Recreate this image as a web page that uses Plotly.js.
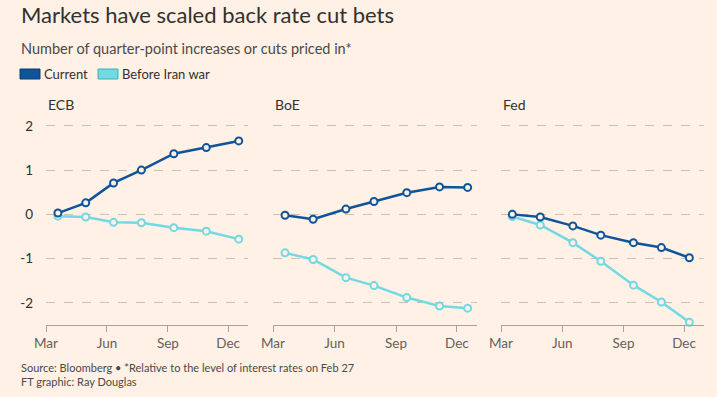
<!DOCTYPE html>
<html><head><meta charset="utf-8">
<script src="https://cdn.plot.ly/plotly-3.0.1.min.js"></script>
<style>html,body{margin:0;padding:0;background:#FFF1E5;}#chart{width:717px;height:397px;}</style>
</head><body><div id="chart"></div>
<script>
// Data
const ecbDates = ['2026-03-19','2026-04-30','2026-06-11','2026-07-23','2026-09-10','2026-10-29','2026-12-17'];
const ecbCurrent = [0.03, 0.26, 0.71, 1.0, 1.37, 1.51, 1.66];
const ecbBefore = [-0.04, -0.06, -0.18, -0.19, -0.30, -0.38, -0.56];

const boeDates = ['2026-03-19','2026-04-30','2026-06-18','2026-07-30','2026-09-17','2026-11-05','2026-12-17'];
const boeCurrent = [-0.02, -0.11, 0.12, 0.29, 0.49, 0.62, 0.61];
const boeBefore = [-0.87, -1.02, -1.43, -1.61, -1.88, -2.07, -2.12];

const fedDates = ['2026-03-18','2026-04-29','2026-06-17','2026-07-29','2026-09-16','2026-10-28','2026-12-09'];
const fedCurrent = [0.0, -0.06, -0.26, -0.47, -0.64, -0.75, -0.98];
const fedBefore = [-0.05, -0.24, -0.64, -1.06, -1.60, -1.98, -2.44];

const panelNames = ['ECB', 'BoE', 'Fed'];
const seriesNames = ['Current', 'Before Iran war'];
const monthTickVals = ['2026-03-01','2026-06-01','2026-09-01','2026-12-01'];
const monthTickText = ['Mar','Jun','Sep','Dec'];
const yTickVals = [-2, -1, 0, 1, 2];
const yTickText = ['-2', '-1', '0', '1', '2'];

const BG = '#FFF1E5';
const DARK = '#0F5499';
const CYAN = '#72D9E3';
const FONT = 'Lato, "Open Sans", sans-serif';
const W = 717, H = 397;

const panels = [
  {dates: ecbDates, cur: ecbCurrent, bef: ecbBefore},
  {dates: boeDates, cur: boeCurrent, bef: boeBefore},
  {dates: fedDates, cur: fedCurrent, bef: fedBefore}
];

const traces = [];
panels.forEach((p, i) => {
  const xa = i === 0 ? 'x' : 'x' + (i + 1);
  const ya = i === 0 ? 'y' : 'y' + (i + 1);
  traces.push({x: p.dates, y: p.bef, xaxis: xa, yaxis: ya, type: 'scatter', mode: 'lines+markers',
    name: seriesNames[1], showlegend: false, cliponaxis: false,
    line: {color: CYAN, width: 2.5},
    marker: {size: 7, color: BG, line: {color: CYAN, width: 2}}});
  traces.push({x: p.dates, y: p.cur, xaxis: xa, yaxis: ya, type: 'scatter', mode: 'lines+markers',
    name: seriesNames[0], showlegend: false, cliponaxis: false,
    line: {color: DARK, width: 2.5},
    marker: {size: 7, color: BG, line: {color: DARK, width: 2}}});
});

const xDomains = [[46 / W, 248 / W], [273 / W, 477 / W], [501 / W, 704 / W]];
const yDomain = [(H - 325) / H, (H - 112.6) / H];

const layout = {
  width: W, height: H,
  paper_bgcolor: BG, plot_bgcolor: BG,
  margin: {l: 0, r: 0, t: 0, b: 0},
  font: {family: FONT, color: '#66605C', size: 13},
  showlegend: false,
  shapes: [], annotations: []
};

xDomains.forEach((d, i) => {
  const sfx = i === 0 ? '' : String(i + 1);
  layout['xaxis' + sfx] = {
    domain: d, type: 'date', range: ['2026-03-01', '2026-12-31'],
    tickvals: monthTickVals, ticktext: monthTickText,
    showgrid: false, zeroline: false, showline: true, linecolor: '#A9A19A', linewidth: 1,
    ticks: 'outside', ticklen: 6, tickcolor: '#A9A19A', tickwidth: 1,
    tickfont: {family: FONT, size: 13.5, color: '#66605C'},
    anchor: 'y' + sfx, fixedrange: true
  };
  layout['yaxis' + sfx] = {
    domain: yDomain, range: [-2.5, 2.3],
    tickvals: yTickVals, ticktext: yTickText,
    showticklabels: i === 0, showgrid: true, gridcolor: '#CDBFB2', griddash: 'dash', gridwidth: 1,
    zeroline: false, showline: false, ticks: '', ticklabelstandoff: 12,
    tickfont: {family: FONT, size: 13.5, color: '#33302E'},
    anchor: 'x' + sfx, fixedrange: true
  };
  layout.annotations.push({text: panelNames[i], xref: 'paper', yref: 'paper',
    x: d[0], y: (H - 104) / H, xanchor: 'left', yanchor: 'middle', showarrow: false,
    font: {family: FONT, size: 14, color: '#33302E'}});
});

// Titles and notes
layout.annotations.push(
  {text: 'Markets have scaled back rate cut bets', xref: 'paper', yref: 'paper', x: 19 / W, y: (H - 15) / H,
   xanchor: 'left', yanchor: 'middle', showarrow: false, font: {family: FONT, size: 22, color: '#33302E'}},
  {text: 'Number of quarter-point increases or cuts priced in*', xref: 'paper', yref: 'paper', x: 19 / W, y: (H - 48) / H,
   xanchor: 'left', yanchor: 'middle', showarrow: false, font: {family: FONT, size: 14.5, color: '#4D4845'}},
  {text: seriesNames[0], xref: 'paper', yref: 'paper', x: 42 / W, y: (H - 74) / H,
   xanchor: 'left', yanchor: 'middle', showarrow: false, font: {family: FONT, size: 13, color: '#33302E'}},
  {text: seriesNames[1], xref: 'paper', yref: 'paper', x: 120 / W, y: (H - 74) / H,
   xanchor: 'left', yanchor: 'middle', showarrow: false, font: {family: FONT, size: 13, color: '#33302E'}},
  {text: 'Source: Bloomberg • *Relative to the level of interest rates on Feb 27', xref: 'paper', yref: 'paper', x: 19 / W, y: (H - 367) / H,
   xanchor: 'left', yanchor: 'middle', showarrow: false, font: {family: FONT, size: 11, color: '#4D4845'}},
  {text: 'FT graphic: Ray Douglas', xref: 'paper', yref: 'paper', x: 19 / W, y: (H - 381) / H,
   xanchor: 'left', yanchor: 'middle', showarrow: false, font: {family: FONT, size: 11, color: '#4D4845'}}
);
layout.shapes.push(
  {type: 'rect', xref: 'paper', yref: 'paper', x0: 20 / W, x1: 40 / W, y0: (H - 79) / H, y1: (H - 69) / H,
   fillcolor: DARK, line: {color: '#0A3C70', width: 1}},
  {type: 'rect', xref: 'paper', yref: 'paper', x0: 98 / W, x1: 118 / W, y0: (H - 79) / H, y1: (H - 69) / H,
   fillcolor: CYAN, line: {color: '#3FAFBB', width: 1}}
);

Plotly.newPlot('chart', traces, layout, {displayModeBar: false, staticPlot: true});
</script></body></html>
